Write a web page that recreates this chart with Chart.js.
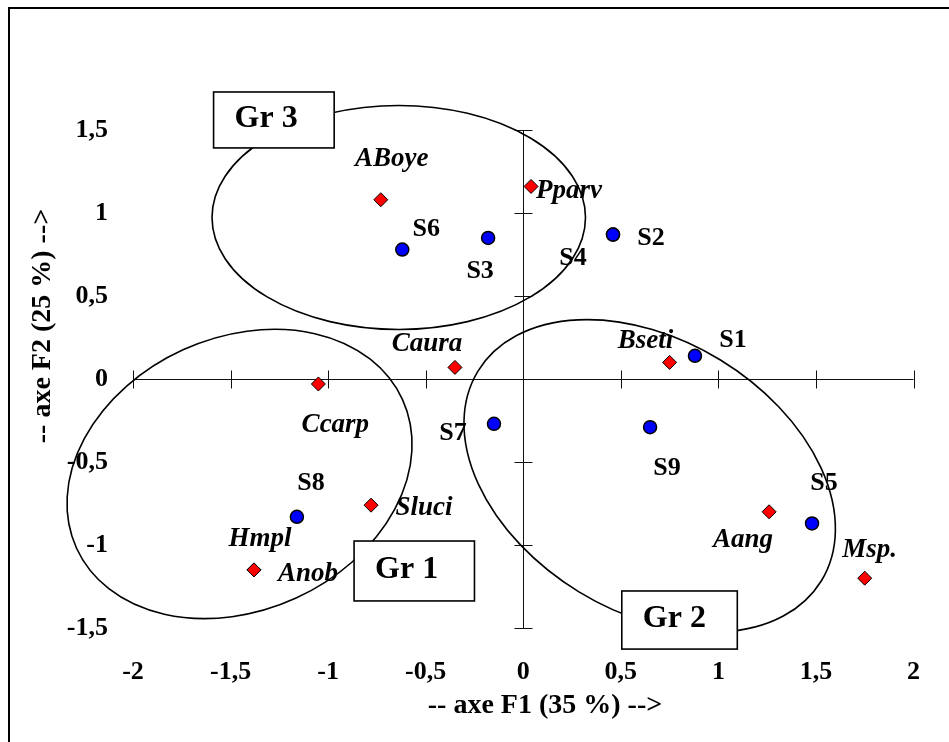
<!DOCTYPE html>
<html>
<head>
<meta charset="utf-8">
<title>ACP F1 x F2</title>
<script src="https://cdn.jsdelivr.net/npm/chart.js@4.4.1/dist/chart.umd.min.js"></script>
<style>
body { margin: 0; background: #fff; overflow: hidden; }
#wrap { width: 949px; height: 742px; position: relative; }
</style>
</head>
<body>
<div id="wrap"><canvas id="acp"></canvas></div>
<script>
// stations (blue dots)
const stationNames = ['S1', 'S2', 'S3', 'S4', 'S5', 'S6', 'S7', 'S8', 'S9'];
const stationF1 = [0.88, 0.46, -0.18, 0.46, 1.48, -0.62, -0.15, -1.16, 0.65];
const stationF2 = [0.14, 0.87, 0.85, 0.87, -0.87, 0.78, -0.27, -0.83, -0.29];

// species (red diamonds)
const speciesNames = ['ABoye', 'Pparv', 'Caura', 'Ccarp', 'Bseti', 'Aang', 'Msp.', 'Sluci', 'Hmpl', 'Anob'];
const speciesF1 = [-0.73, 0.04, -0.35, -1.05, 0.75, 1.26, 1.75, -0.78, -1.38, -1.38];
const speciesF2 = [1.08, 1.16, 0.07, -0.03, 0.10, -0.80, -1.20, -0.76, -1.15, -1.15];

const xTicks = [-2, -1.5, -1, -0.5, 0, 0.5, 1, 1.5, 2];
const yTicks = [-1.5, -1, -0.5, 0, 0.5, 1, 1.5];

// groups: ellipse centre in axis units, half axes in F1 units
const groupNames = ['Gr 1', 'Gr 2', 'Gr 3'];
const groupCenterF1 = [-1.454, 0.648, -0.638];
const groupCenterF2 = [-0.572, -0.584, 0.973];
const groupAxisA = [0.918, 1.031, 0.957];
const groupAxisB = [0.699, 0.696, 0.574];
const groupTilt = [-24.5, 31.4, 0];
const groupBoxF1 = [[-0.867, -0.25], [0.505, 1.097], [-1.587, -0.969]];
const groupBoxF2 = [[-0.976, -1.337], [-1.277, -1.627], [1.729, 1.392]];

// label placement (pixels from the mark)
const stationLabelDx = [38, 38, -8, -40, 12, 24, -41, 14, 17];
const stationLabelDy = [-9, 10, 40, 30, -33, -14, 16, -27, 48];
const speciesLabelDx = [11, 38, -28, 17, -24, -26, 5, 53, 6, 54];
const speciesLabelDy = [-34, 12, -16, 48, -14, 35, -21, 10, -24, 11];

const SERIF = '"Liberation Serif", "Times New Roman", serif';

function to_points(xs, ys)
{
    return xs.map(function(x, i) { return {x: x, y: ys[i]}; });
}

function comma(v)
{
    return String(v).replace('.', ',');
}

function draw_cross(ctx, xs, ys)
{
    var x0 = Math.round(xs.getPixelForValue(0)) + 0.5;
    var y0 = Math.round(ys.getPixelForValue(0)) + 0.5;

    ctx.save();
    ctx.strokeStyle = '#111';
    ctx.lineWidth = 1;
    ctx.beginPath();
    ctx.moveTo(xs.getPixelForValue(xTicks[0]), y0);
    ctx.lineTo(xs.getPixelForValue(xTicks[xTicks.length - 1]), y0);
    xTicks.forEach(function(t) {
	var px = Math.round(xs.getPixelForValue(t)) + 0.5;
	ctx.moveTo(px, y0 - 9);
	ctx.lineTo(px, y0 + 9);
    });
    ctx.moveTo(x0, ys.getPixelForValue(yTicks[0]));
    ctx.lineTo(x0, ys.getPixelForValue(yTicks[yTicks.length - 1]));
    yTicks.forEach(function(t) {
	var py = Math.round(ys.getPixelForValue(t)) + 0.5;
	ctx.moveTo(x0 - 9, py);
	ctx.lineTo(x0 + 9, py);
    });
    ctx.stroke();
    ctx.restore();
}

function draw_groups(ctx, xs, ys)
{
    var unit = xs.getPixelForValue(1) - xs.getPixelForValue(0);

    ctx.save();
    ctx.strokeStyle = '#000';
    ctx.lineWidth = 1.6;
    groupNames.forEach(function(g, i) {
	ctx.beginPath();
	ctx.ellipse(xs.getPixelForValue(groupCenterF1[i]), ys.getPixelForValue(groupCenterF2[i]),
		    groupAxisA[i] * unit, groupAxisB[i] * unit,
		    groupTilt[i] * Math.PI / 180, 0, 2 * Math.PI);
	ctx.stroke();
    });

    groupNames.forEach(function(g, i) {
	var left = xs.getPixelForValue(groupBoxF1[i][0]);
	var right = xs.getPixelForValue(groupBoxF1[i][1]);
	var top = ys.getPixelForValue(groupBoxF2[i][0]);
	var bottom = ys.getPixelForValue(groupBoxF2[i][1]);

	ctx.fillStyle = '#fff';
	ctx.fillRect(left, top, right - left, bottom - top);
	ctx.strokeRect(left, top, right - left, bottom - top);

	ctx.fillStyle = '#000';
	ctx.font = 'bold 32px ' + SERIF;
	ctx.textAlign = 'left';
	ctx.textBaseline = 'middle';
	ctx.fillText(g, left + 21, (top + bottom) / 2 - 1);
    });
    ctx.restore();
}

function draw_labels(ctx, chart, idx, names, dx, dy, font)
{
    var meta = chart.getDatasetMeta(idx);

    ctx.save();
    ctx.fillStyle = '#000';
    ctx.font = font;
    ctx.textAlign = 'center';
    ctx.textBaseline = 'alphabetic';
    meta.data.forEach(function(pt, i) {
	ctx.fillText(names[i], pt.x + dx[i], pt.y + dy[i]);
    });
    ctx.restore();
}

var acpDecor = {
    id: 'acpDecor',
    beforeDraw: function(chart) {
	var ctx = chart.ctx;
	ctx.save();
	ctx.fillStyle = '#fff';
	ctx.fillRect(0, 0, chart.width, chart.height);
	ctx.restore();
    },
    beforeDatasetsDraw: function(chart) {
	draw_cross(chart.ctx, chart.scales.x, chart.scales.y);
	draw_groups(chart.ctx, chart.scales.x, chart.scales.y);
    },
    afterDatasetsDraw: function(chart) {
	draw_labels(chart.ctx, chart, 0, stationNames, stationLabelDx, stationLabelDy,
		    'bold 26px ' + SERIF);
	draw_labels(chart.ctx, chart, 1, speciesNames, speciesLabelDx, speciesLabelDy,
		    'italic bold 27px ' + SERIF);
    },
    afterDraw: function(chart) {
	var ctx = chart.ctx;
	ctx.save();
	ctx.fillStyle = '#000';
	ctx.font = 'bold 28px ' + SERIF;
	ctx.textAlign = 'center';
	ctx.textBaseline = 'middle';
	ctx.fillText('-- axe F1 (35 %) -->', 545, 706);
	ctx.translate(43, 326);
	ctx.rotate(-Math.PI / 2);
	ctx.fillText('-- axe F2 (25 %) -->', 0, 0);
	ctx.restore();

	ctx.save();
	ctx.strokeStyle = '#000';
	ctx.lineWidth = 2;
	ctx.strokeRect(9, 8, chart.width + 20, chart.height + 20);
	ctx.restore();
    }
};

new Chart(document.getElementById('acp'), {
    type: 'scatter',
    data: {
	datasets: [{
	    label: 'Stations',
	    data: to_points(stationF1, stationF2),
	    pointStyle: 'circle',
	    pointRadius: 6.5,
	    pointBackgroundColor: '#0000ff',
	    pointBorderColor: '#000',
	    pointBorderWidth: 1.5,
	    clip: false
	}, {
	    label: 'Espèces',
	    data: to_points(speciesF1, speciesF2),
	    pointStyle: 'rectRot',
	    pointRadius: 7,
	    pointBackgroundColor: '#ff0000',
	    pointBorderColor: '#000',
	    pointBorderWidth: 1,
	    clip: false
	}]
    },
    options: {
	responsive: true,
	maintainAspectRatio: false,
	animation: false,
	layout: {
	    padding: {top: 130, right: 26, bottom: 0, left: 0}
	},
	plugins: {
	    legend: {display: false},
	    tooltip: {enabled: false}
	},
	scales: {
	    x: {
		type: 'linear',
		position: 'bottom',
		min: -2,
		max: 2,
		afterBuildTicks: function(scale) {
		    scale.ticks = xTicks.map(function(v) { return {value: v}; });
		},
		afterFit: function(scale) { scale.height = 114; },
		grid: {display: false, drawTicks: false},
		border: {display: false},
		ticks: {
		    padding: 29,
		    color: '#000',
		    maxRotation: 0,
		    autoSkip: false,
		    font: {family: SERIF, size: 26, weight: 'bold'},
		    callback: function(v) { return comma(v); }
		}
	    },
	    y: {
		type: 'linear',
		position: 'left',
		min: -1.5,
		max: 1.5,
		afterBuildTicks: function(scale) {
		    scale.ticks = yTicks.map(function(v) { return {value: v}; });
		},
		afterFit: function(scale) { scale.width = 133; },
		grid: {display: false, drawTicks: false},
		border: {display: false},
		ticks: {
		    padding: 25,
		    color: '#000',
		    autoSkip: false,
		    font: {family: SERIF, size: 26, weight: 'bold'},
		    callback: function(v) { return comma(v); }
		}
	    }
	}
    },
    plugins: [acpDecor]
});
</script>
</body>
</html>
